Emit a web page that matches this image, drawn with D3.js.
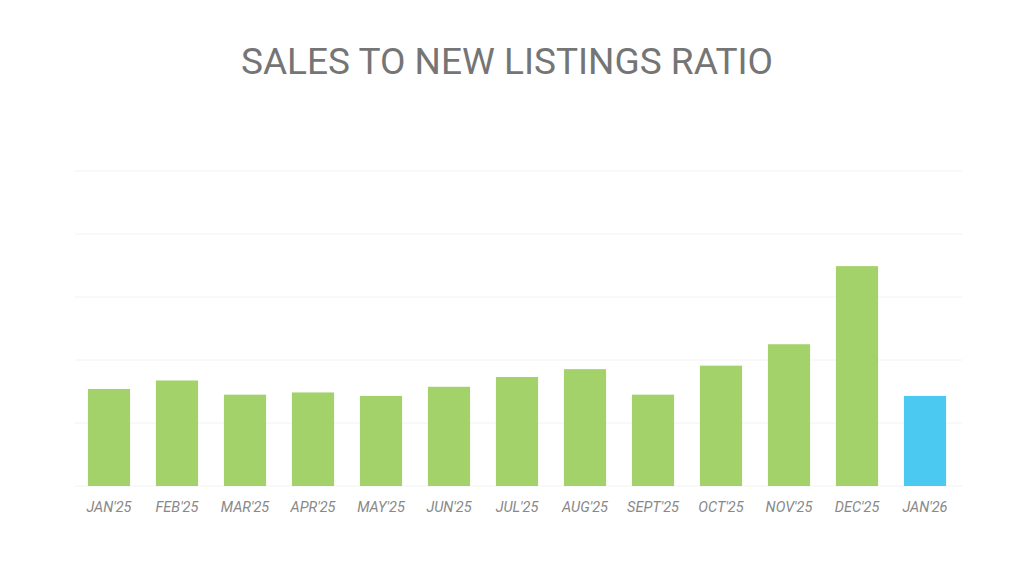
<!DOCTYPE html>
<html><head><meta charset="utf-8">
<script src="https://cdn.jsdelivr.net/npm/d3@7"></script>
<style>body{margin:0;background:#fff;font-family:Roboto,sans-serif}</style>
</head><body><svg id="chart" width="1024" height="576"></svg>
<script>
var months = ["JAN'25","FEB'25","MAR'25","APR'25","MAY'25","JUN'25","JUL'25","AUG'25","SEPT'25","OCT'25","NOV'25","DEC'25","JAN'26"];
var ratios = [30.8,33.5,29.0,29.7,28.6,31.5,34.6,37.1,29.0,38.2,45.0,69.8,28.6];
var gridTicks = [0,20,40,60,80,100];

var svg = d3.select("#chart");
var x = d3.scaleBand().domain(months).range([75, 959]).paddingInner(0.38).paddingOuter(0.19);
var y = d3.scaleLinear().domain([0, 100]).range([486, 171]);

svg.append("text").attr("x", 507).attr("y", 74).attr("text-anchor", "middle")
  .attr("font-size", 37).attr("fill", "#757575").text("SALES TO NEW LISTINGS RATIO");

svg.append("g").selectAll("line").data(gridTicks).join("line")
  .attr("x1", 75).attr("x2", 962).attr("y1", d => y(d)).attr("y2", d => y(d))
  .attr("stroke", "#f2f2f2");

var defs = svg.append("defs");
months.forEach(function(m, i) {
  defs.append("clipPath").attr("id", "c" + i).append("rect")
    .attr("x", x(m)).attr("y", y(ratios[i])).attr("width", x.bandwidth()).attr("height", y(0) - y(ratios[i]));
});

var bars = svg.append("g").selectAll("g").data(months).join("g");
bars.append("rect")
  .attr("x", d => x(d)).attr("width", x.bandwidth())
  .attr("y", (d, i) => y(ratios[i])).attr("height", (d, i) => y(0) - y(ratios[i]))
  .attr("fill", (d, i) => i == months.length - 1 ? "#4cc9f0" : "#a3d16a");
bars.append("text")
  .attr("clip-path", (d, i) => "url(#c" + i + ")")
  .attr("transform", d => "translate(" + (x(d) + x.bandwidth() / 2 + 10) + ",467) rotate(-90)")
  .attr("font-size", 28).attr("font-weight", "bold").attr("fill", "#fff")
  .text((d, i) => ratios[i].toFixed(1) + "%");

svg.append("g").selectAll("text").data(months).join("text")
  .attr("x", d => x(d) + x.bandwidth() / 2).attr("y", 512).attr("text-anchor", "middle")
  .attr("font-size", 14.5).attr("font-style", "italic").attr("fill", "#888")
  .text(d => d);
</script></body></html>
